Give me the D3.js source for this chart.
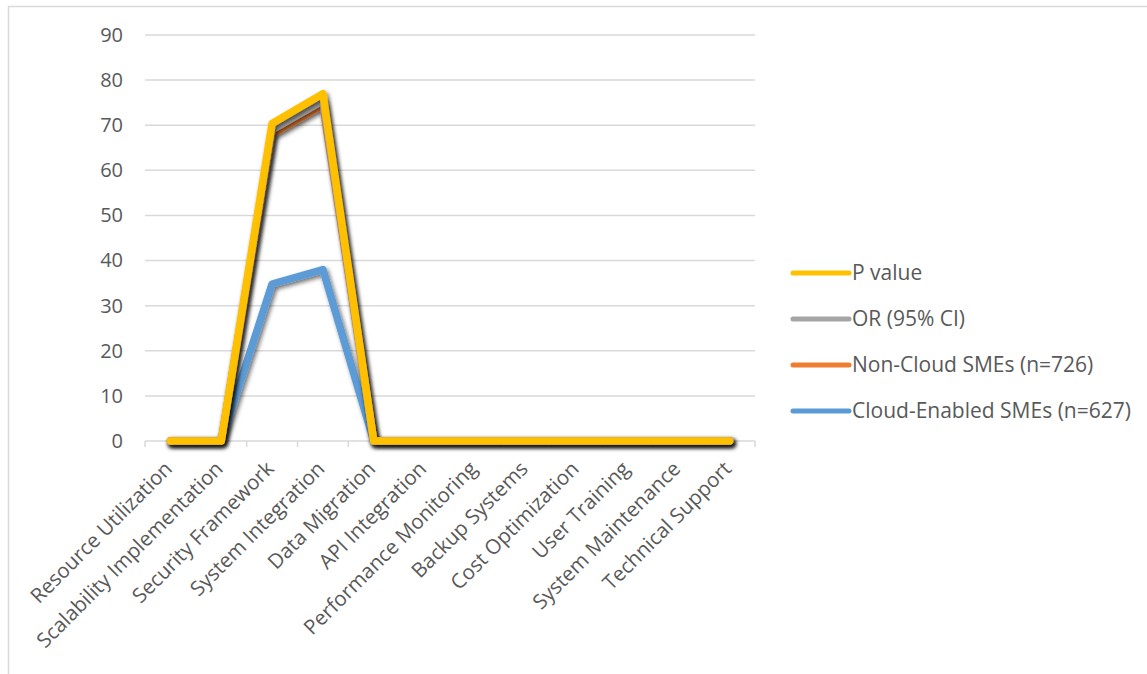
<!DOCTYPE html>
<html lang="en">
<head>
  <meta charset="UTF-8">
  <title>Cloud SMEs</title>
  <script src="https://cdn.jsdelivr.net/npm/d3@7"></script>
  <style>
    body { margin: 0; background: #fff; }
    text { font-family: 'Open Sans', 'Liberation Sans', sans-serif; fill: #595959; }
  </style>
</head>
<body>
<div id="grafica"></div>
<script>
// datos
categorias = ['Resource Utilization', 'Scalability Implementation', 'Security Framework',
  'System Integration', 'Data Migration', 'API Integration', 'Performance Monitoring',
  'Backup Systems', 'Cost Optimization', 'User Training', 'System Maintenance', 'Technical Support']
cloud    = [0, 0, 34.8, 38.0, 0, 0, 0, 0, 0, 0, 0, 0]
nonCloud = [0, 0, 33.2, 36.5, 0, 0, 0, 0, 0, 0, 0, 0]
orCI     = [0, 0, 1.0, 1.0, 0, 0, 0, 0, 0, 0, 0, 0]
pValue   = [0, 0, 1.4, 1.5, 0, 0, 0, 0, 0, 0, 0, 0]
yTicks   = [0, 10, 20, 30, 40, 50, 60, 70, 80, 90]

series = [
  { name: 'Cloud-Enabled SMEs (n=627)', values: cloud,    color: '#5b9bd5' },
  { name: 'Non-Cloud SMEs (n=726)',     values: nonCloud, color: '#ed7d31' },
  { name: 'OR (95% CI)',                values: orCI,     color: '#a5a5a5' },
  { name: 'P value',                    values: pValue,   color: '#ffc000' }
]

ancho_total = 1147
alto_total = 674
margin = { left: 145, top: 35 }
ancho = 610
alto = 406

svg = d3.select('#grafica').append('svg')
  .attr('width', ancho_total)
  .attr('height', alto_total)

defs = svg.append('defs')
defs.append('filter').attr('id', 'sombra')
  .attr('x', '-10%').attr('y', '-10%').attr('width', '120%').attr('height', '120%')
  .append('feDropShadow')
  .attr('dx', 2).attr('dy', 2.5).attr('stdDeviation', 2.2)
  .attr('flood-color', '#000').attr('flood-opacity', 0.55)

// borde
svg.append('path')
  .attr('d', 'M8.5,' + alto_total + ' V6.5 H' + ancho_total)
  .attr('fill', 'none').attr('stroke', '#d9d9d9').attr('stroke-width', 1.5)

g = svg.append('g').attr('transform', `translate(${margin.left},${margin.top})`)

x = d3.scaleBand().domain(categorias).range([0, ancho])
y = d3.scaleLinear().domain([0, 90]).range([alto, 0])

// grid
g.selectAll('.grid').data(yTicks.slice(1)).join('line')
  .attr('x1', 0).attr('x2', ancho)
  .attr('y1', d => y(d)).attr('y2', d => y(d))
  .attr('stroke', '#d9d9d9').attr('stroke-width', 1.5)

yAxis = g.append('g').call(d3.axisLeft(y).tickValues(yTicks).tickSize(0).tickPadding(22))
yAxis.select('.domain').remove()
yAxis.selectAll('text').style('font-size', '20px').attr('fill', '#595959')

// eje x
xAxis = g.append('g').attr('transform', `translate(0,${alto})`)
xAxis.append('line').attr('x1', 0).attr('x2', ancho)
  .attr('stroke', '#d9d9d9').attr('stroke-width', 1.5)
bordes = d3.range(categorias.length + 1).map(i => i * x.step())
xAxis.selectAll('.tk').data(bordes).join('line')
  .attr('x1', d => d).attr('x2', d => d).attr('y1', 0).attr('y2', 6)
  .attr('stroke', '#d9d9d9').attr('stroke-width', 1.5)
xAxis.selectAll('.lbl').data(categorias).join('text')
  .attr('transform', d => `translate(${x(d) + x.bandwidth() / 2 + 3},${29}) rotate(-45)`)
  .attr('text-anchor', 'end')
  .style('font-size', '20.5px')
  .text(d => d)

// lineas apiladas
acum = categorias.map(() => 0)
apiladas = series.map(s => {
  pts = s.values.map((v, i) => { acum[i] += v; return { cat: categorias[i], value: acum[i] } })
  return { s: s, pts: pts }
})

linea = d3.line()
  .x(d => x(d.cat) + x.bandwidth() / 2)
  .y(d => y(d.value))

g.selectAll('.serie').data(apiladas).join('path')
  .attr('d', d => linea(d.pts))
  .attr('fill', 'none')
  .attr('stroke', d => d.s.color)
  .attr('stroke-width', 7.5)
  .attr('stroke-linejoin', 'round')
  .attr('stroke-linecap', 'round')
  .attr('filter', 'url(#sombra)')

// leyenda
leyenda = svg.append('g').attr('transform', 'translate(793,273)')
items = leyenda.selectAll('g').data(series.slice().reverse()).join('g')
  .attr('transform', (d, i) => `translate(0,${i * 46})`)
items.append('line').attr('x1', 0).attr('x2', 56)
  .attr('stroke', d => d.color).attr('stroke-width', 5)
  .attr('stroke-linecap', 'round')
items.append('text').attr('x', 59).attr('dy', '0.35em')
  .style('font-size', '21px')
  .text(d => d.name)
</script>
</body>
</html>
